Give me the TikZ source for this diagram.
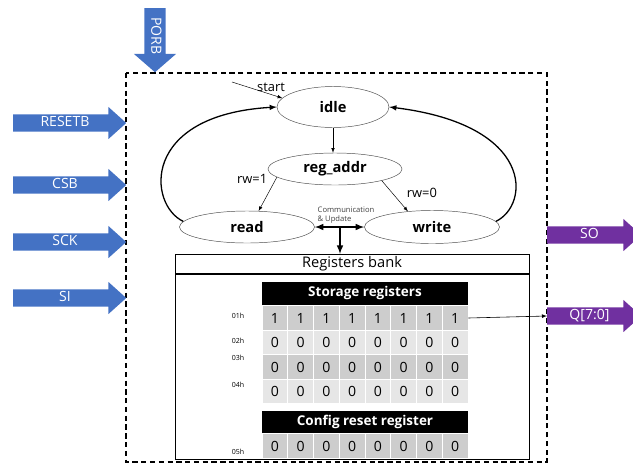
\documentclass[tikz,border=0pt]{standalone}
\usepackage{fontspec}
\setmainfont{Open Sans}
\usetikzlibrary{shapes.geometric,shapes.arrows}
\definecolor{pinblue}{HTML}{4472C4}
\definecolor{pinpurple}{HTML}{7030A0}
\definecolor{celldark}{HTML}{CDCDCD}
\definecolor{celllight}{HTML}{E6E6E6}

\begin{document}
\begin{tikzpicture}[x=0.03cm, y=-0.03cm, >=latex,
    fsm/.style={ellipse, draw=black!70, line width=0.4pt, inner sep=0pt,
      font=\fontsize{12.5}{14}\selectfont\bfseries},
    sigarrow/.style={single arrow, fill=#1, text=white, inner ysep=1.6pt,
      text height=8.5pt, text depth=2.5pt, single arrow head extend=0.225cm,
      single arrow tip angle=84, anchor=west, font=\fontsize{12}{14}\selectfont},
    cell/.style={rectangle, fill=#1, draw=white, line width=0.8pt,
      minimum width=0.7725cm, minimum height=0.735cm, inner sep=0pt,
      font=\fontsize{12}{14}\selectfont},
    regbar/.style={rectangle, fill=black, text=white, minimum width=6.18cm,
      minimum height=0.69cm, inner sep=0pt, font=\fontsize{11.5}{13}\selectfont\bfseries},
    addr/.style={font=\fontsize{6}{7}\selectfont},
    lbl/.style={font=\fontsize{11}{13}\selectfont},
    backedge/.style={->, line width=1.1pt}]

    \useasboundingbox (0,0) rectangle (633,464);

    % chip boundary
    \draw [dashed, line width=1.1pt, dash pattern=on 4.5pt off 3pt] (126,73) rectangle (547,462);

    % input and output pins
    \node [sigarrow=pinblue, minimum height=3.39cm] (rst) at (13,123) {RESETB};
    \node [sigarrow=pinblue, minimum height=3.39cm] (csb) at (13,185) {CSB};
    \node [sigarrow=pinblue, minimum height=3.39cm] (sck) at (13,242) {SCK};
    \node [sigarrow=pinblue, minimum height=3.39cm] (si) at (13,298) {SI};
    \node [sigarrow=pinblue, minimum height=1.92cm, rotate=-90, inner ysep=3.4pt,
      single arrow head extend=0.315cm, single arrow tip angle=98] (porb) at (155,8) {PORB};
    \node [sigarrow=pinpurple, minimum height=2.82cm] (so) at (547,235) {SO};
    \node [sigarrow=pinpurple, minimum height=2.82cm] (q) at (547,316) {Q[7:0]};

    % state machine
    \node [fsm, minimum width=3.36cm, minimum height=1.23cm] (idle) at (333,107) {idle};
    \node [fsm, minimum width=4.02cm, minimum height=0.96cm] (addr) at (335,169) {reg\_addr};
    \node [fsm, minimum width=4.05cm, minimum height=0.96cm] (rd) at (247,227) {read};
    \node [fsm, minimum width=4.05cm, minimum height=0.99cm] (wr) at (432,227) {write};

    \coordinate (s0) at (232,82);
    \node [lbl] (st) at (271,87) {start};
    \draw [->] (s0) -- (idle.170);
    \draw [->] (idle.south) -- (idle.south |- addr.north);
    \draw [->] (addr.188) -- node [lbl, pos=0.05, left=4pt] {rw=1} (rd.54);
    \draw [->] (addr.346) -- node [lbl, pos=0.4, right=9pt] {rw=0} (wr.147);
    \draw [backedge] (rd.175) .. controls (148,205) and (140,115) .. (idle.west);
    \draw [backedge] (wr.5) .. controls (530,205) and (535,125) .. (idle.east);

    \draw [<->, line width=1.5pt] (rd.east) -- (wr.west);
    \node [font=\fontsize{6.5}{7.5}\selectfont, text=black!75, align=left, inner sep=0pt] (comm) at (346,215) {Communication\\\& Update};

    % registers bank
    \node [draw, line width=0.9pt, minimum width=10.62cm, minimum height=6.15cm, anchor=north west, inner sep=0pt] (bank) at (175,254) {};
    \draw [line width=0.9pt] ([yshift=-0.6cm]bank.north west) -- ([yshift=-0.6cm]bank.north east);
    \node [font=\fontsize{12.5}{14}\selectfont] (bt) at (352,264) {Registers bank};

    \coordinate (cm) at (340,227);
    \draw [->, line width=1.5pt] (cm) -- (cm |- bank.north);

    \node [regbar] (sr) at (365,293) {Storage registers};
    \foreach \r/\y/\c/\v in {1/318/celldark/1, 2/342.5/celllight/0, 3/367/celldark/0, 4/391.5/celllight/0}
      \foreach \k in {1,...,8}
        \node [cell=\c] (r\r-\k) at ({262+25.75*(\k-0.5)},\y) {\v};

    \node [regbar] (cr) at (365,422) {Config reset register};
    \foreach \k in {1,...,8}
      \node [cell=celldark] (r5-\k) at ({262+25.75*(\k-0.5)},446) {0};

    \foreach \a/\y in {01h/316, 02h/341, 03h/358, 04h/385, 05h/452}
      \node [addr] (a\a) at (238,\y) {\a};

    \draw [->, line width=0.5pt] (r1-8.east) -- (q.west);

  \end{tikzpicture}
\end{document}
